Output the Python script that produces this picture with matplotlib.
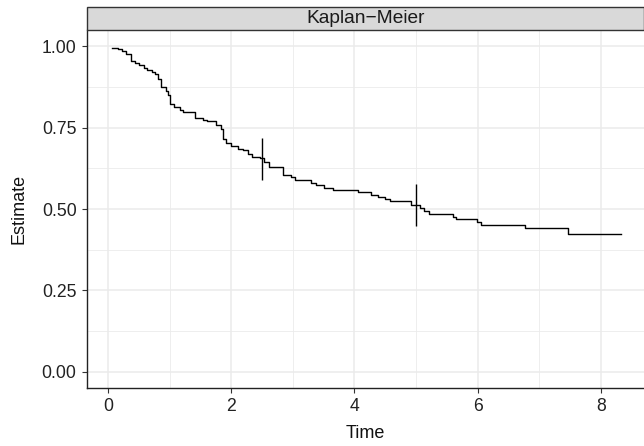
import matplotlib
matplotlib.use("Agg")
import matplotlib.pyplot as plt
import numpy as np
from matplotlib.patches import Rectangle
from matplotlib.ticker import MultipleLocator

plt.rcParams['font.family'] = ['Liberation Sans', 'DejaVu Sans']

# step times and survival estimate after each step
times = [0.07, 0.17, 0.22, 0.30, 0.37, 0.44, 0.51, 0.58, 0.63, 0.71, 0.76, 0.82,
         0.86, 0.94, 0.98, 1.01, 1.08, 1.17, 1.22, 1.41, 1.54, 1.60, 1.76, 1.83,
         1.86, 1.91, 2.00, 2.11, 2.19, 2.27, 2.33, 2.46, 2.54, 2.62, 2.84, 2.97,
         3.03, 3.30, 3.38, 3.51, 3.65, 4.06, 4.27, 4.38, 4.49, 4.57, 4.92, 5.06,
         5.13, 5.21, 5.60, 5.65, 5.99, 6.05, 6.77, 7.47, 8.32]
surv = [0.995, 0.992, 0.984, 0.976, 0.956, 0.949, 0.941, 0.934, 0.927, 0.920, 0.915, 0.900,
        0.874, 0.864, 0.849, 0.823, 0.813, 0.803, 0.797, 0.780, 0.772, 0.770, 0.757, 0.747,
        0.716, 0.703, 0.695, 0.685, 0.680, 0.670, 0.660, 0.658, 0.644, 0.629, 0.604, 0.598,
        0.588, 0.580, 0.573, 0.563, 0.558, 0.552, 0.542, 0.537, 0.530, 0.524, 0.512, 0.502,
        0.494, 0.486, 0.476, 0.468, 0.460, 0.452, 0.442, 0.422, 0.422]

# censoring marks
cens_t = [2.5, 5.0]
cens_s = [0.653, 0.512]

fig = plt.figure(figsize=(6.44, 4.46), dpi=100)
ax = fig.add_axes([87 / 644, 1 - 388 / 446, 1 - 87 / 644, (388 - 30) / 446])

ax.step(times, surv, where="post", color="black", lw=1.0)
ax.plot(cens_t, cens_s, linestyle="none", marker="|", markersize=30,
        markeredgewidth=1.0, color="black")

ax.set_xlim(-0.34, 8.70)
ax.set_ylim(-0.05, 1.05)
ax.xaxis.set_major_locator(MultipleLocator(2))
ax.xaxis.set_minor_locator(MultipleLocator(1))
ax.yaxis.set_major_locator(MultipleLocator(0.25))
ax.yaxis.set_minor_locator(MultipleLocator(0.125))
yt = [0.0, 0.25, 0.5, 0.75, 1.0]
ax.set_yticks(yt)
ax.set_yticklabels(["%.2f" % v for v in yt])

ax.grid(which="major", color="#EBEBEB", lw=1.1)
ax.grid(which="minor", color="#EBEBEB", lw=0.6)
ax.set_axisbelow(True)

for side in ["top", "right"]:
    ax.spines[side].set_visible(False)
for side in ["left", "bottom"]:
    ax.spines[side].set_color("#222222")
    ax.spines[side].set_linewidth(1.0)

ax.tick_params(which="major", length=3.5, width=0.8, color="#333333",
               labelsize=12.7, labelcolor="#222222", pad=4)
ax.tick_params(which="minor", length=0)

ax.set_xlabel("Time", fontsize=13, color="#111111", labelpad=7)
ax.set_ylabel("Estimate", fontsize=13, color="#111111", labelpad=10)

# facet strip
strip = Rectangle((87 / 644, 1 - 30 / 446), 1 - 87 / 644, 23 / 446,
                  transform=fig.transFigure, facecolor="#D9D9D9",
                  edgecolor="#333333", lw=1.0, clip_on=False)
fig.patches.append(strip)
fig.text((87 / 644 + 1) / 2, 1 - 18.5 / 446, "Kaplan\u2212Meier",
         ha="center", va="center", fontsize=13.8, color="#1A1A1A")

fig.savefig("out.png", dpi=100)
